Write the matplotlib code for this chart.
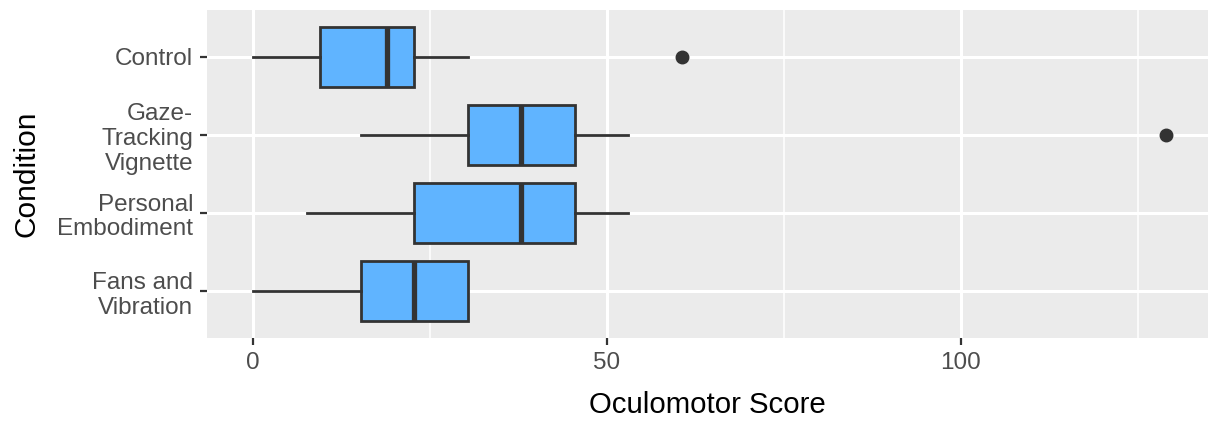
import matplotlib
matplotlib.use("Agg")
import matplotlib.pyplot as plt
from matplotlib.ticker import MultipleLocator

plt.rcParams['font.family'] = ['Liberation Sans', 'DejaVu Sans']

# data (oculomotor scores per condition)
conditions = ["Control", "Gaze-\nTracking\nVignette", "Personal\nEmbodiment", "Fans and\nVibration"]
whisker_low = [0.0, 15.2, 7.6, 0.0]
q1 = [9.4, 30.3, 22.7, 15.2]
median = [18.9, 37.9, 37.9, 22.7]
q3 = [22.8, 45.5, 45.5, 30.3]
whisker_high = [30.3, 53.0, 53.0, 30.3]
outliers = [[60.6], [129.0], [], []]

stats = []
for i in range(len(conditions)):
    stats.append({
        "whislo": whisker_low[i], "q1": q1[i], "med": median[i],
        "q3": q3[i], "whishi": whisker_high[i], "fliers": outliers[i],
    })

dark = "#333333"
fig = plt.figure(figsize=(12.08, 4.24), dpi=100)
ax = fig.add_axes([0.1714, 0.2028, 0.8286, 0.7736])
ax.set_facecolor("#EBEBEB")

ax.bxp(stats, positions=range(1, len(conditions) + 1), vert=False, widths=0.76,
       patch_artist=True, showcaps=False,
       boxprops=dict(facecolor="#60B4FF", edgecolor=dark, linewidth=2.0),
       medianprops=dict(color=dark, linewidth=3.8, solid_capstyle="butt"),
       whiskerprops=dict(color=dark, linewidth=2.0),
       flierprops=dict(marker="o", markersize=9, markerfacecolor=dark,
                       markeredgecolor=dark))

ax.set_xlim(-6.5, 134.9)
ax.set_ylim(4.6, 0.4)
ax.xaxis.set_major_locator(MultipleLocator(50))
ax.xaxis.set_minor_locator(MultipleLocator(25))
ax.set_yticks(range(1, len(conditions) + 1))
ax.set_yticklabels(conditions, linespacing=1.17)

ax.grid(which="major", color="white", linewidth=2.2)
ax.grid(which="minor", axis="x", color="white", linewidth=1.1)
ax.set_axisbelow(True)
for s in ax.spines.values():
    s.set_visible(False)

ax.tick_params(which="major", length=5, width=1.6, color=dark,
               labelsize=17.5, labelcolor="#4D4D4D", pad=5)
ax.tick_params(which="minor", length=0)

ax.set_xlabel("Oculomotor Score", fontsize=21.2, labelpad=12)
ax.set_ylabel("Condition", fontsize=21.5, labelpad=12)

fig.savefig("out.png", dpi=100)
